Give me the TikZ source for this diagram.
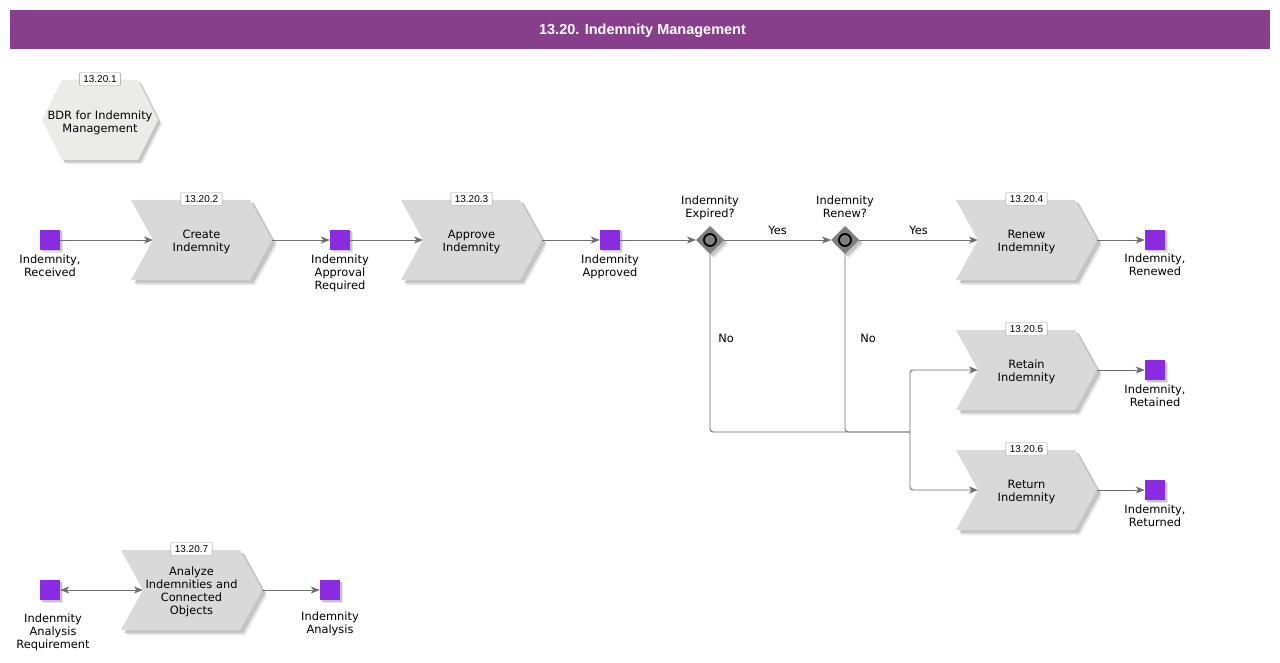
\documentclass[tikz,border=0pt]{standalone}
\usepackage{fontspec}
\setmainfont{DejaVu Sans}
\newfontfamily\arialf{Liberation Sans}
\usetikzlibrary{arrows.meta,calc}
\definecolor{titlec}{HTML}{873F8C}
\definecolor{evc}{HTML}{8A2BE2}
\definecolor{fnc}{HTML}{D9D9D9}
\definecolor{hexc}{HTML}{EBEBE9}
\definecolor{shc}{HTML}{C4C4C4}
\definecolor{shlc}{HTML}{E6E6E6}
\definecolor{edgec}{HTML}{6F6F6F}
\definecolor{gwc}{HTML}{7F7F7F}
\tikzset{
  txt/.style={font=\fontsize{11.4}{13}\selectfont, align=center, inner sep=0pt, text=black},
  idbox/.style={draw=gray!80, fill=white, rounded corners=1pt, font=\arialf\fontsize{10}{11}\selectfont, inner xsep=4pt, inner ysep=1.5pt, minimum height=13pt},
  ev/.style={fill=evc, minimum size=20pt, inner sep=0pt},
  conn/.style={draw=edgec, line width=0.9pt, -{Stealth[length=9pt,width=7pt,inset=2.5pt]}},
  line/.style={draw=edgec, line width=0.9pt, rounded corners=3pt},
  lbl/.style={txt, anchor=north},
}
\newcommand\chevron[5]{%
  \begin{scope}[shift={(#2,#3)}]
    \fill[shlc] (-65.5,-35) -- (53.5,-35) -- (75.5,5) -- (53.5,45) -- (-65.5,45) -- (-43.5,5) -- cycle;
    \fill[shc] (-67,-37) -- (52,-37) -- (74,3) -- (52,43) -- (-67,43) -- (-45,3) -- cycle;
    \fill[fnc] (-70.5,-40) -- (48.5,-40) -- (70.5,0) -- (48.5,40) -- (-70.5,40) -- (-48.5,0) -- cycle;
  \end{scope}
  \node[txt] (#1) at (#2,#3+2) {#4};
  \coordinate (#1-in) at ([xshift=-48.5pt,yshift=2pt]#1.center);
  \coordinate (#1-out) at ([xshift=70.5pt,yshift=2pt]#1.center);
  \node[idbox] (#1-id) at ([yshift=43pt]#1.center) {#5};
}
\newcommand\gateway[4]{%
  \begin{scope}[shift={(#2,#3)}]
    \fill[shlc] (4,-10) -- (18,4) -- (4,18) -- (-10,4) -- cycle;
    \fill[shc] (2.5,-11.5) -- (16.5,2.5) -- (2.5,16.5) -- (-11.5,2.5) -- cycle;
    \fill[gwc] (0,-14) -- (14,0) -- (0,14) -- (-14,0) -- cycle;
    \draw[black, line width=1.8pt, fill=gwc] (0,0) circle (6);
  \end{scope}
  \coordinate (#1) at (#2,#3);
  \coordinate (#1-w) at ([xshift=-14pt]#1);
  \coordinate (#1-e) at ([xshift=14pt]#1);
  \coordinate (#1-s) at ([yshift=-14pt]#1);
  \node[txt, anchor=north] (#1-lbl) at ([yshift=44pt]#1) {#4};
}
\newcommand\event[3]{% name, x, y
  \fill[shlc] (#2-7,#3-7) rectangle (#2+13,#3+13);
  \fill[shc] (#2-8.5,#3-8.5) rectangle (#2+11.5,#3+11.5);
  \node[ev] (#1) at (#2,#3) {};
}
\begin{document}
\begin{tikzpicture}[x=1pt,y=-1pt]
\useasboundingbox[fill=white] (0,0) rectangle (1280,663);
% title
\fill[titlec] (10,10) rectangle (1270,49);
\node[font=\arialf\bfseries\fontsize{14.5}{16}\selectfont, text=white] (title) at (642.5,30.5) {13.20. Indemnity Management};

% hexagon
\begin{scope}[shift={(100,120)}]
  \fill[shlc] (-54,4) -- (-34,-36) -- (42,-36) -- (62,4) -- (42,44) -- (-34,44) -- cycle;
  \fill[shc] (-55.5,2.5) -- (-35.5,-37.5) -- (40.5,-37.5) -- (60.5,2.5) -- (40.5,42.5) -- (-35.5,42.5) -- cycle;
  \fill[hexc] (-58,0) -- (-38,-40) -- (38,-40) -- (58,0) -- (38,40) -- (-38,40) -- cycle;
\end{scope}
\node[txt] (bdr) at (100,122.5) {BDR for Indemnity\\Management};
\node[idbox] (bdr-id) at (100,79) {13.20.1};

% functions
\chevron{create}{201.5}{240}{Create\\Indemnity}{13.20.2}
\chevron{approve}{471.5}{240}{Approve\\Indemnity}{13.20.3}
\chevron{renew}{1026.5}{240}{Renew\\Indemnity}{13.20.4}
\chevron{retain}{1026.5}{370}{Retain\\Indemnity}{13.20.5}
\chevron{return}{1026.5}{490}{Return\\Indemnity}{13.20.6}
\chevron{analyze}{191.5}{590}{Analyze\\Indemnities and\\Connected\\Objects}{13.20.7}

% gateways
\gateway{g1}{710}{240}{Indemnity\\Expired?}
\gateway{g2}{845}{240}{Indemnity\\Renew?}

% events
\event{e1}{50}{240}
\node[lbl] (e1l) at (50,255) {Indemnity,\\Received};
\event{e2}{340}{240}
\node[lbl] (e2l) at (340,255) {Indemnity\\Approval\\Required};
\event{e3}{610}{240}
\node[lbl] (e3l) at (610,255) {Indemnity\\Approved};
\event{e4}{1155}{240}
\node[lbl] (e4l) at (1155,254) {Indemnity,\\Renewed};
\event{e5}{1155}{370}
\node[lbl] (e5l) at (1155,385) {Indemnity,\\Retained};
\event{e6}{1155}{490}
\node[lbl] (e6l) at (1155,505) {Indemnity,\\Returned};
\event{e7}{50}{590}
\node[lbl] (e7l) at (53,614) {Indenmity\\Analysis\\Requirement};
\event{e8}{330}{590}
\node[lbl] (e8l) at (330,612) {Indemnity\\Analysis};

% connectors
\draw[conn] (e1.east) -- (create-in);
\draw[conn] (create-out) -- (e2.west);
\draw[conn] (e2.east) -- (approve-in);
\draw[conn] (approve-out) -- (e3.west);
\draw[conn] (e3.east) -- (g1-w);
\draw[conn] (g1-e) -- node[txt, above=5pt] (yes1) {Yes} (g2-w);
\draw[conn] (g2-e) -- node[txt, above=5pt] (yes2) {Yes} (renew-in);
\draw[conn] (renew-out) -- (e4.west);
\coordinate (j) at (910,432);
\draw[line] (g1-s) |- (j);
\draw[line] (g2-s) |- (j);
\draw[line, conn] (j) |- (retain-in);
\draw[line, conn] (j) |- (return-in);
\node[txt] (no1) at (726,338) {No};
\node[txt] (no2) at (868,338) {No};
\draw[conn] (retain-out) -- (e5.west);
\draw[conn] (return-out) -- (e6.west);
\draw[conn, {Stealth[length=9pt,width=7pt,inset=2.5pt]}-{Stealth[length=9pt,width=7pt,inset=2.5pt]}] (e7.east) -- (analyze-in);
\draw[conn] (analyze-out) -- (e8.west);
\end{tikzpicture}
\end{document}
